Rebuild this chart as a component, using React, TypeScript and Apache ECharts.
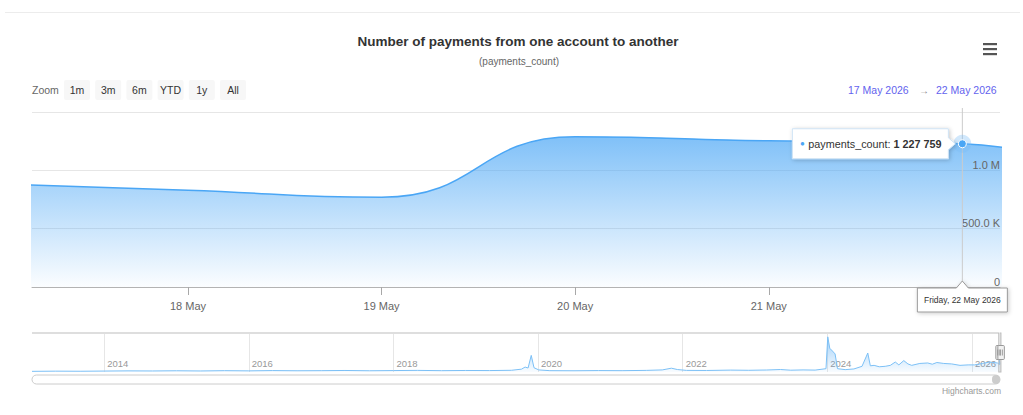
import React, { useEffect, useRef } from "react";
import * as echarts from "echarts";

// ---------- text ----------
const TITLE = "Number of payments from one account to another";
const SUBTITLE = "(payments_count)";
const SERIES_NAME = "payments_count";
const ZOOM_LABEL = "Zoom";
const zoomButtons = ["1m", "3m", "6m", "YTD", "1y", "All"];
const rangeFrom = "17 May 2026";
const rangeTo = "22 May 2026";
const CREDITS = "Highcharts.com";

// ---------- main (zoomed) data ----------
const mainDates = ["2026-05-17", "2026-05-18", "2026-05-19", "2026-05-20", "2026-05-21", "2026-05-22", "2026-05-23"];
const mainValues = [885000, 830000, 770000, 1287000, 1253000, 1227759, 800000];

// visible window of the main chart
const viewStart = "2026-05-17T04:40";
const viewEnd = "2026-05-22T04:40";
const tooltipIndex = 5;

// ---------- navigator (full history) data ----------
const navDates = [
  "2013-01-01", "2013-05-01", "2013-09-01", "2014-01-01", "2014-05-01", "2014-09-01",
  "2015-01-01", "2015-05-01", "2015-09-01", "2016-01-01", "2016-05-01", "2016-09-01",
  "2017-01-01", "2017-05-01", "2017-09-01", "2018-01-01", "2018-05-01", "2018-09-01",
  "2019-01-01", "2019-05-01", "2019-08-20", "2019-10-10", "2019-10-28", "2019-11-12",
  "2019-11-28", "2019-12-12", "2020-01-05", "2020-03-01", "2020-07-01", "2020-11-01",
  "2021-03-01", "2021-07-01", "2021-09-20", "2021-11-05", "2021-12-05", "2022-01-20",
  "2022-05-01", "2022-09-01", "2022-12-01", "2023-03-01", "2023-05-10", "2023-07-01",
  "2023-09-01", "2023-11-01", "2023-12-26", "2024-01-04", "2024-01-14", "2024-01-28",
  "2024-02-10", "2024-02-22", "2024-04-01", "2024-05-15", "2024-06-25", "2024-07-24",
  "2024-08-06", "2024-08-25", "2024-09-20", "2024-10-20", "2024-11-15", "2024-12-10",
  "2024-12-28", "2025-01-22", "2025-02-12", "2025-03-03", "2025-04-13", "2025-05-23",
  "2025-06-15", "2025-07-08", "2025-08-12", "2025-09-21", "2025-11-02", "2025-12-13",
  "2026-01-15", "2026-02-24", "2026-04-01", "2026-05-10",
];
const navValues = [
  70000, 90000, 80000, 100000, 120000, 110000,
  130000, 110000, 140000, 120000, 150000, 130000,
  140000, 160000, 130000, 150000, 170000, 140000,
  160000, 150000, 180000, 300000, 520000, 420000,
  1750000, 450000, 220000, 140000, 130000, 150000,
  140000, 170000, 220000, 400000, 260000, 170000,
  160000, 200000, 180000, 210000, 260000, 190000,
  220000, 200000, 350000, 3700000, 2500000, 2200000,
  1900000, 350000, 250000, 320000, 600000, 2000000,
  650000, 700000, 550000, 600000, 700000, 1050000,
  750000, 1200000, 850000, 700000, 900000, 950000,
  820000, 1000000, 900000, 850000, 700000, 750000,
  750000, 900000, 1050000, 950000,
];

// ---------- ticks ----------
const dayTicks = ["2026-05-18", "2026-05-19", "2026-05-20", "2026-05-21", "2026-05-22"];
const dayLabels = ["2026-05-18", "2026-05-19", "2026-05-20", "2026-05-21"]; // 22 May label sits under the date tooltip
const yearTicks = ["2014-01-01", "2016-01-01", "2018-01-01", "2020-01-01", "2022-01-01", "2024-01-01", "2026-01-01"];
const yMax = 1500000;
const yInterval = 500000;
const navYMax = 4000000;

// ---------- helpers ----------
const MONTHS = ["Jan", "Feb", "Mar", "Apr", "May", "Jun", "Jul", "Aug", "Sep", "Oct", "Nov", "Dec"];
const WEEKDAYS = ["Sunday", "Monday", "Tuesday", "Wednesday", "Thursday", "Friday", "Saturday"];
const FONT = "'Liberation Sans', Arial, Helvetica, sans-serif";
const SERIES_COLOR = "#4aa6f5";

function toTs(s: string): number {
  const [d, t] = s.split("T");
  const [y, m, dd] = d.split("-").map(Number);
  let hh = 0;
  let mm = 0;
  if (t) {
    const p = t.split(":").map(Number);
    hh = p[0];
    mm = p[1];
  }
  return new Date(y, m - 1, dd, hh, mm).getTime();
}
const fmtDay = (v: number) => {
  const d = new Date(v);
  return `${d.getDate()} ${MONTHS[d.getMonth()]}`;
};
const fmtLong = (v: number) => {
  const d = new Date(v);
  return `${WEEKDAYS[d.getDay()]}, ${d.getDate()} ${MONTHS[d.getMonth()]} ${d.getFullYear()}`;
};
const fmtY = (v: number) => {
  if (v === 0) return "0";
  if (v >= 1000000) return (v / 1000000).toFixed(1) + " M";
  return (v / 1000).toFixed(1) + " K";
};
const fmtNum = (v: number) => String(v).replace(/\B(?=(\d{3})+(?!\d))/g, " ");

const mainData = mainDates.map((d, i) => [toTs(d), mainValues[i]]);
const navData = navDates.map((d, i) => [toTs(d), navValues[i]]).concat(mainData);
const viewMin = toTs(viewStart);
const viewMax = toTs(viewEnd);
const navMin = toTs(navDates[0]);
const navMax = toTs(mainDates[mainDates.length - 1]);
const dayTickTs = dayTicks.map(toTs);
const dayLabelTs = dayLabels.map(toTs);
const yearTickTs = yearTicks.map(toTs);

function buildOption(): any {
  return {
    animation: false,
    backgroundColor: "#ffffff",
    textStyle: { fontFamily: FONT },
    grid: [
      { left: 32, right: 23, top: 112, height: 175 },
      { left: 32, right: 23, top: 334, height: 38 },
    ],
    xAxis: [
      {
        type: "value",
        gridIndex: 0,
        min: viewMin,
        max: viewMax,
        axisLine: { show: true, lineStyle: { color: "#b3b3b3", width: 1 } },
        axisTick: { show: true, length: 8, customValues: dayTickTs, lineStyle: { color: "#a8a8a8" } },
        axisLabel: { customValues: dayLabelTs, formatter: fmtDay, color: "#666666", fontSize: 11, margin: 13, fontFamily: FONT },
        splitLine: { show: false },
      },
      {
        type: "value",
        gridIndex: 1,
        min: navMin,
        max: navMax,
        axisLine: { show: false },
        axisTick: { show: false, customValues: yearTickTs },
        axisLabel: {
          customValues: yearTickTs,
          inside: true,
          align: "left",
          padding: [0, 0, 0, 3],
          margin: 4,
          color: "#999999",
          fontSize: 9.5,
          fontFamily: FONT,
          formatter: (v: number) => String(new Date(v).getFullYear()),
        },
        splitLine: { show: true, lineStyle: { color: "#e6e6e6", width: 1 } },
      },
    ],
    yAxis: [
      {
        type: "value",
        gridIndex: 0,
        position: "right",
        min: 0,
        max: yMax,
        interval: yInterval,
        axisLine: { show: false },
        axisTick: { show: false },
        axisLabel: { show: false },
        splitLine: { show: true, lineStyle: { color: "#e6e6e6", width: 1 } },
      },
      {
        type: "value",
        gridIndex: 0,
        position: "right",
        min: 0,
        max: yMax,
        interval: yInterval,
        z: 10,
        axisLine: { show: false },
        axisTick: { show: false },
        splitLine: { show: false },
        axisLabel: {
          inside: true,
          margin: 0,
          verticalAlign: "bottom",
          showMaxLabel: false,
          color: "#666666",
          fontSize: 11,
          fontFamily: FONT,
          formatter: fmtY,
        },
      },
      { type: "value", gridIndex: 1, min: 0, max: navYMax, show: false },
    ],
    series: [
      {
        name: SERIES_NAME,
        type: "line",
        xAxisIndex: 0,
        yAxisIndex: 0,
        data: mainData,
        smooth: 0.5,
        showSymbol: false,
        symbol: "none",
        clip: true,
        lineStyle: { color: SERIES_COLOR, width: 1.5 },
        areaStyle: {
          color: new echarts.graphic.LinearGradient(0, 0, 0, 1, [
            { offset: 0, color: "rgba(74,166,245,1)" },
            { offset: 1, color: "rgba(74,166,245,0.03)" },
          ]),
        },
      },
      {
        name: "navigator",
        type: "line",
        xAxisIndex: 1,
        yAxisIndex: 2,
        data: navData,
        showSymbol: false,
        symbol: "none",
        lineStyle: { color: "#7cc0f6", width: 1 },
        areaStyle: {
          color: new echarts.graphic.LinearGradient(0, 0, 0, 1, [
            { offset: 0, color: "rgba(74,166,245,0.75)" },
            { offset: 1, color: "rgba(74,166,245,0.05)" },
          ]),
        },
      },
    ],
  };
}

function buildGraphics(chart: any): any[] {
  const Z = 100;
  const els: any[] = [];
  const text = (x: number, y: number, t: string, o: any = {}) => ({
    type: "text",
    x,
    y,
    z: Z,
    silent: true,
    style: {
      text: t,
      fontFamily: FONT,
      fontSize: 11,
      fill: "#333333",
      align: "left",
      verticalAlign: "middle",
      ...o,
    },
  });
  const center = { align: "center" };

  // page top border
  els.push({ type: "line", z: Z, silent: true, shape: { x1: 5, y1: 12.5, x2: 1020, y2: 12.5 }, style: { stroke: "#ececec", lineWidth: 1 } });

  // title & subtitle
  els.push(text(518, 41, TITLE, { fontSize: 13.5, fontWeight: "bold", ...center }));
  els.push(text(519, 61.5, SUBTITLE, { fontSize: 10, fill: "#666666", ...center }));

  // context menu icon
  [43, 48, 53].forEach((y) => {
    els.push({ type: "rect", z: Z, silent: true, shape: { x: 983, y, width: 14, height: 2.2 }, style: { fill: "#555555" } });
  });

  // range selector
  els.push(text(32, 90, ZOOM_LABEL, { fontSize: 10.5, fill: "#666666" }));
  zoomButtons.forEach((b, i) => {
    const bx = 64 + i * 31.2;
    els.push({ type: "rect", z: Z, silent: true, shape: { x: bx, y: 80, width: 26, height: 20, r: 2 }, style: { fill: "#f7f7f7" } });
    els.push(text(bx + 13, 90, b, { fontSize: 10.5, ...center }));
  });
  els.push(text(848, 90, rangeFrom, { fontSize: 10.5, fill: "#6363ee" }));
  els.push(text(924, 90, "→", { fontSize: 10, fill: "#8a8a8a", ...center }));
  els.push(text(936, 90, rangeTo, { fontSize: 10.5, fill: "#6363ee" }));

  // positions from the chart's own scales
  const tipTs = mainData[tooltipIndex][0];
  const tipVal = mainData[tooltipIndex][1];
  const pt = chart.convertToPixel({ gridIndex: 0 }, [tipTs, tipVal]) as number[];
  const plotTop = chart.convertToPixel({ yAxisIndex: 0 }, yMax) as number;
  const plotBottom = chart.convertToPixel({ yAxisIndex: 0 }, 0) as number;
  const px = pt[0];
  const py = pt[1];

  // crosshair
  els.push({ type: "line", z: Z - 5, silent: true, shape: { x1: px, y1: plotTop - 4, x2: px, y2: plotBottom }, style: { stroke: "#cccccc", lineWidth: 1 } });

  // halo + marker
  els.push({ type: "circle", z: Z, silent: true, shape: { cx: px, cy: py, r: 9 }, style: { fill: "rgba(124,190,245,0.35)" } });
  els.push({ type: "circle", z: Z + 1, silent: true, shape: { cx: px, cy: py, r: 4 }, style: { fill: SERIES_COLOR, stroke: "#ffffff", lineWidth: 1 } });

  // series tooltip callout
  const bR = px - 14;
  const bL = bR - 156;
  const bT = py - 15;
  const bB = py + 15;
  els.push({
    type: "polygon",
    z: Z,
    silent: true,
    shape: { points: [[bL, bT], [bR, bT], [bR, py - 6], [px - 7, py], [bR, py + 6], [bR, bB], [bL, bB]] },
    style: { fill: "#ffffff", stroke: "#cfe3f5", lineWidth: 1, shadowBlur: 4, shadowColor: "rgba(0,0,0,0.22)", shadowOffsetX: 1, shadowOffsetY: 1 },
  });
  els.push(text(bL + 10, py, "●", { fontSize: 8, fill: SERIES_COLOR, ...center }));
  els.push(
    text(bL + 16, py, `${SERIES_NAME}: {b|${fmtNum(tipVal)}}`, {
      fontSize: 10.8,
      fill: "#333333",
      rich: { b: { fontWeight: "bold", fontSize: 10.8, fill: "#333333", fontFamily: FONT } },
    })
  );

  // header (date) callout on the x axis
  const hL = px - 45;
  const hR = px + 45;
  const hT = plotBottom + 1;
  const hB = plotBottom + 25;
  els.push({
    type: "polygon",
    z: Z,
    silent: true,
    shape: { points: [[hL, hT], [px - 6, hT], [px, plotBottom - 6], [px + 6, hT], [hR, hT], [hR, hB], [hL, hB]] },
    style: { fill: "#ffffff", stroke: "#9a9a9a", lineWidth: 1, shadowBlur: 4, shadowColor: "rgba(0,0,0,0.2)", shadowOffsetX: 1, shadowOffsetY: 1 },
  });
  els.push(text(px, (hT + hB) / 2, fmtLong(tipTs), { fontSize: 8.5, fill: "#333333", ...center }));

  // navigator outline & handles
  const nL = chart.convertToPixel({ xAxisIndex: 1 }, navMin) as number;
  const nR = chart.convertToPixel({ xAxisIndex: 1 }, navMax) as number;
  const s0 = chart.convertToPixel({ xAxisIndex: 1 }, viewMin) as number;
  const s1 = chart.convertToPixel({ xAxisIndex: 1 }, viewMax) as number;
  const nT = (chart.convertToPixel({ yAxisIndex: 2 }, navYMax) as number) - 1;
  const nB = chart.convertToPixel({ yAxisIndex: 2 }, 0) as number;
  const s1b = Math.max(s1, s0 + 2);
  els.push({
    type: "polyline",
    z: Z,
    silent: true,
    shape: { points: [[nL, nT], [s0, nT], [s0, nB], [s1b, nB], [s1b, nT], [nR, nT]] },
    style: { stroke: "#bdbdbd", lineWidth: 1.2, fill: null },
  });
  const nMid = (nT + nB) / 2;
  [s0, s1b].forEach((hx) => {
    els.push({ type: "rect", z: Z + 1, silent: true, shape: { x: hx - 3, y: nMid - 7, width: 6.5, height: 14, r: 1 }, style: { fill: "#f2f2f2", stroke: "#999999", lineWidth: 1 } });
    els.push({ type: "line", z: Z + 2, silent: true, shape: { x1: hx - 1, y1: nMid - 3, x2: hx - 1, y2: nMid + 3 }, style: { stroke: "#888888", lineWidth: 0.8 } });
    els.push({ type: "line", z: Z + 2, silent: true, shape: { x1: hx + 1.5, y1: nMid - 3, x2: hx + 1.5, y2: nMid + 3 }, style: { stroke: "#888888", lineWidth: 0.8 } });
  });

  // scrollbar
  els.push({ type: "rect", z: Z, silent: true, shape: { x: nL, y: nB + 3, width: nR - nL, height: 9, r: 4.5 }, style: { fill: "#ffffff", stroke: "#cccccc", lineWidth: 1 } });
  els.push({ type: "rect", z: Z + 1, silent: true, shape: { x: nR - 8, y: nB + 3, width: 8, height: 9, r: 4.5 }, style: { fill: "#cccccc" } });

  // credits
  els.push(text(1001, 391, CREDITS, { fontSize: 8.5, fill: "#999999", align: "right" }));

  return els;
}

export default function App() {
  const ref = useRef<HTMLDivElement>(null);
  useEffect(() => {
    if (!ref.current) return;
    const chart = echarts.init(ref.current, undefined, { renderer: "svg" });
    chart.setOption(buildOption());
    chart.setOption({ graphic: { elements: buildGraphics(chart) } });
    return () => chart.dispose();
  }, []);
  return (
    <div
      ref={ref}
      style={{ position: "fixed", left: 0, top: 0, width: 1023, height: 415, background: "#ffffff" }}
    />
  );
}
